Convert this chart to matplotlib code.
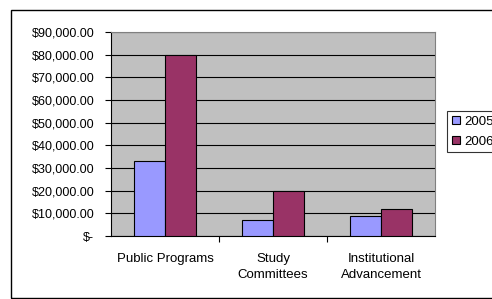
import matplotlib.pyplot as plt
import numpy as np
from matplotlib.patches import Rectangle
from matplotlib.transforms import ScaledTranslation

plt.rcParams['font.family'] = ['Liberation Sans', 'DejaVu Sans']

# Data
categories = ['Public Programs', 'Study\nCommittees', 'Institutional\nAdvancement']
values_2005 = [33000, 7000, 9000]
values_2006 = [80000, 19800, 12000]
yticks = np.arange(0, 90001, 10000)
ytick_labels = ['$-'] + ['${:,.2f}'.format(v) for v in yticks[1:]]

W, H = 492, 299
fig = plt.figure(figsize=(W / 100, H / 100), dpi=100)
ax = fig.add_axes([111 / W, 1 - 236 / H, (435 - 111) / W, (236 - 32) / H])

x = np.arange(len(categories))
bw = 0.287
ax.bar(x - bw / 2, values_2005, bw, color='#9999FF', edgecolor='black', linewidth=0.8, label='2005', zorder=3)
ax.bar(x + bw / 2, values_2006, bw, color='#993366', edgecolor='black', linewidth=0.8, label='2006', zorder=3)

ax.set_facecolor('#C0C0C0')
ax.set_xlim(-0.5, 2.5)
ax.set_ylim(0, 90000)
ax.set_yticks(yticks)
ax.set_yticklabels(ytick_labels, fontsize=9)
ax.yaxis.grid(True, color='black', linewidth=0.8, zorder=1)
ax.set_axisbelow(True)

# accounting-style zero label sits further left
zero_lbl = ax.get_yticklabels()[0]
zero_lbl.set_transform(zero_lbl.get_transform() + ScaledTranslation(-15 / 100, 0, fig.dpi_scale_trans))

ax.set_xticks([0.5, 1.5], minor=False)
ax.set_xticklabels([])
ax.set_xticks(x, minor=True)
ax.set_xticklabels(categories, minor=True, fontsize=9.5, linespacing=1.45)
ax.tick_params(axis='x', which='minor', length=0, pad=12)
ax.tick_params(axis='x', which='major', direction='out', length=4, width=0.8)
ax.tick_params(axis='y', direction='out', length=4, width=0.8, pad=8)

for side in ['top', 'right']:
    ax.spines[side].set_color('#808080')
    ax.spines[side].set_linewidth(0.8)
for side in ['left', 'bottom']:
    ax.spines[side].set_color('black')
    ax.spines[side].set_linewidth(0.8)

# outer chart border
fig.patches.append(Rectangle((10.5 / W, 1 - 297.5 / H), 1.2, (297.5 - 9.5) / H,
                             transform=fig.transFigure, fill=False,
                             edgecolor='black', linewidth=1.0))

leg = fig.legend(loc='upper left', bbox_to_anchor=(447 / W, 1 - 111 / H),
                 fontsize=9.5, frameon=True, fancybox=False, edgecolor='black',
                 handlelength=0.65, handleheight=0.65, handletextpad=0.3,
                 borderpad=0.35, labelspacing=0.6, borderaxespad=0)
leg.get_frame().set_linewidth(0.8)

fig.savefig('out.png', dpi=100)
